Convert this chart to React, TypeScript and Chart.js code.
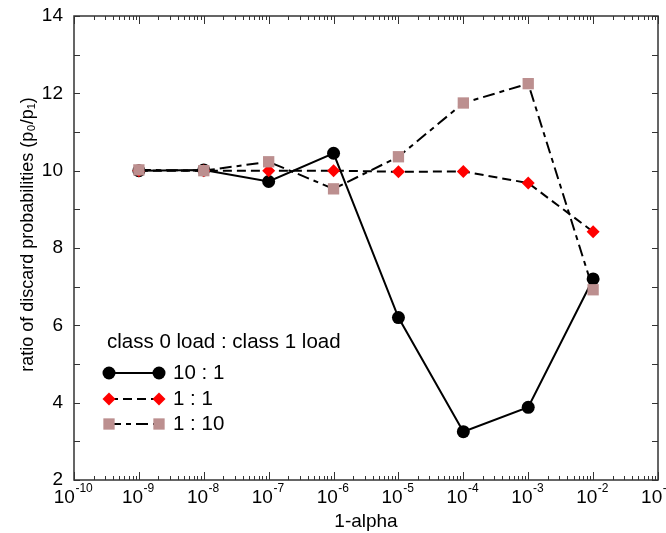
import React, { useEffect, useRef } from 'react';
import { Chart, registerables } from 'chart.js';

Chart.register(...registerables);

// ---- data ----
const alphaValues = [1e-9, 1e-8, 1e-7, 1e-6, 1e-5, 1e-4, 1e-3, 1e-2];
const ratio10to1 = [10.0, 10.02, 9.72, 10.45, 6.2, 3.25, 3.88, 7.2];
const ratio1to1 = [10.0, 10.0, 10.0, 10.0, 9.97, 9.98, 9.68, 8.42];
const ratio1to10 = [10.02, 10.0, 10.23, 9.53, 10.36, 11.75, 12.25, 6.92];
const seriesLabels = ['10 : 1', '1 : 1', '1 : 10'];
const legendTitle = 'class 0 load : class 1 load';
const xTickExponents = [-10, -9, -8, -7, -6, -5, -4, -3, -2, -1];
const yMin = 2;
const yMax = 14;
const xTitle = '1-alpha';
const yTitle = 'ratio of discard probabilities (p\u2080/p\u2081)';

const FONT = "'Liberation Sans', Arial, Helvetica, sans-serif";
const GRAY = 'rgb(188,143,143)';

function drawMarker(ctx: CanvasRenderingContext2D, style: string, x: number, y: number, r: number, color: string) {
  ctx.save();
  ctx.fillStyle = color;
  ctx.beginPath();
  if (style === 'circle') {
    ctx.arc(x, y, r, 0, Math.PI * 2);
  } else if (style === 'rectRot') {
    ctx.moveTo(x, y - r);
    ctx.lineTo(x + r, y);
    ctx.lineTo(x, y + r);
    ctx.lineTo(x - r, y);
    ctx.closePath();
  } else {
    const s = r * Math.SQRT1_2;
    ctx.rect(x - s, y - s, 2 * s, 2 * s);
  }
  ctx.fill();
  ctx.restore();
}

const framePlugin = {
  id: 'frameTicks',
  afterDraw(chart: any) {
    const { ctx, chartArea, scales } = chart;
    const { left, right, top, bottom } = chartArea;
    ctx.save();
    ctx.strokeStyle = '#333';
    ctx.lineWidth = 1.5;
    ctx.strokeRect(left, top, right - left, bottom - top);
    ctx.lineWidth = 1;
    ctx.beginPath();
    for (let v = yMin; v <= yMax; v++) {
      const py = Math.round(scales.y.getPixelForValue(v)) + 0.5;
      const len = 6;
      ctx.moveTo(left, py); ctx.lineTo(left + len, py);
      ctx.moveTo(right, py); ctx.lineTo(right - len, py);
    }
    const e0 = xTickExponents[0];
    const e1 = xTickExponents[xTickExponents.length - 1];
    for (let e = e0; e <= e1; e++) {
      for (let m = 1; m <= 9; m++) {
        if (e === e1 && m > 1) break;
        const v = m * Math.pow(10, e);
        const px = Math.round(scales.x.getPixelForValue(v)) + 0.5;
        const len = m === 1 ? 8 : 4;
        ctx.moveTo(px, bottom); ctx.lineTo(px, bottom - len);
        ctx.moveTo(px, top); ctx.lineTo(px, top + len);
      }
    }
    ctx.stroke();
    ctx.restore();

    // x tick labels with superscript exponents
    ctx.save();
    ctx.fillStyle = '#000';
    ctx.textBaseline = 'alphabetic';
    ctx.textAlign = 'left';
    const baseFont = `19px ${FONT}`;
    const expFont = `12px ${FONT}`;
    scales.x.ticks.forEach((t: any) => {
      const e = Math.round(Math.log10(t.value));
      const px = scales.x.getPixelForValue(t.value);
      const baseText = '10';
      const expText = String(e);
      ctx.font = baseFont;
      const bw = ctx.measureText(baseText).width;
      ctx.font = expFont;
      const ew = ctx.measureText(expText).width;
      const x0 = px - (bw + ew) / 2 - 1;
      ctx.font = baseFont;
      ctx.fillText(baseText, x0, bottom + 23);
      ctx.font = expFont;
      ctx.fillText(expText, x0 + bw + 0.5, bottom + 12);
    });
    ctx.restore();

    // legend
    ctx.save();
    ctx.fillStyle = '#000';
    ctx.font = `20.5px ${FONT}`;
    ctx.textBaseline = 'middle';
    ctx.textAlign = 'left';
    ctx.fillText(legendTitle, 107, 342);
    const rowsY = [373, 399, 424];
    chart.data.datasets.forEach((ds: any, i: number) => {
      const y = rowsY[i];
      ctx.save();
      ctx.strokeStyle = ds.borderColor;
      ctx.lineWidth = ds.borderWidth;
      ctx.setLineDash(ds.borderDash || []);
      ctx.beginPath();
      ctx.moveTo(109, y);
      ctx.lineTo(159, y);
      ctx.stroke();
      ctx.restore();
      drawMarker(ctx, ds.pointStyle, 109, y, ds.pointRadius, ds.pointBackgroundColor);
      drawMarker(ctx, ds.pointStyle, 159, y, ds.pointRadius, ds.pointBackgroundColor);
      ctx.fillStyle = '#000';
      ctx.fillText(ds.label, 173, y);
    });
    ctx.restore();
  },
};

export default function App() {
  const canvasRef = useRef<HTMLCanvasElement | null>(null);

  useEffect(() => {
    if (!canvasRef.current) return;
    const toPts = (arr: number[]) => alphaValues.map((x, i) => ({ x, y: arr[i] }));
    const chart = new Chart(canvasRef.current, {
      type: 'line',
      data: {
        datasets: [
          {
            label: seriesLabels[0],
            data: toPts(ratio10to1),
            borderColor: '#000',
            borderWidth: 2,
            pointStyle: 'circle',
            pointRadius: 6.5,
            pointBackgroundColor: '#000',
            pointBorderColor: '#000',
            pointBorderWidth: 0,
            order: 3,
          },
          {
            label: seriesLabels[1],
            data: toPts(ratio1to1),
            borderColor: '#000',
            borderWidth: 2,
            borderDash: [9, 5],
            pointStyle: 'rectRot',
            pointRadius: 6.5,
            pointBackgroundColor: '#ff0000',
            pointBorderColor: '#ff0000',
            pointBorderWidth: 0,
            order: 2,
          },
          {
            label: seriesLabels[2],
            data: toPts(ratio1to10),
            borderColor: '#000',
            borderWidth: 2,
            borderDash: [12, 5, 5, 5],
            pointStyle: 'rect',
            pointRadius: 8,
            pointBackgroundColor: GRAY,
            pointBorderColor: GRAY,
            pointBorderWidth: 0,
            order: 1,
          },
        ] as any,
      },
      options: {
        animation: false,
        responsive: false,
        devicePixelRatio: 1,
        layout: { padding: { top: 16, right: 7, bottom: 0, left: 0 } },
        plugins: { legend: { display: false }, tooltip: { enabled: false } },
        elements: { line: { tension: 0 } },
        scales: {
          x: {
            type: 'logarithmic',
            min: 1e-10,
            max: 1e-1,
            afterBuildTicks: (s: any) => {
              s.ticks = xTickExponents.map((e) => ({ value: Math.pow(10, e) }));
            },
            afterFit: (s: any) => {
              s.height = 53;
              s.paddingLeft = 0;
              s.paddingRight = 0;
            },
            ticks: {
              display: false,
              autoSkip: false,
              maxRotation: 0,
              minRotation: 0,
            },
            grid: { display: false, drawTicks: false },
            border: { display: false },
            title: {
              display: true,
              text: xTitle,
              color: '#000',
              font: { family: FONT, size: 19 },
              padding: { top: 0, bottom: 0 },
            },
          },
          y: {
            type: 'linear',
            min: yMin,
            max: yMax,
            afterFit: (s: any) => {
              s.width = 74;
              s.paddingTop = 0;
              s.paddingBottom = 0;
            },
            ticks: {
              stepSize: 2,
              padding: 11,
              color: '#000',
              font: { family: FONT, size: 19 },
            },
            grid: { display: false, drawTicks: false },
            border: { display: false },
            title: {
              display: true,
              text: '\u2003\u2002' + yTitle,
              color: '#000',
              font: { family: FONT, size: 18 },
              padding: { top: 17, bottom: 0 },
            },
          },
        },
      } as any,
      plugins: [framePlugin],
    });
    return () => chart.destroy();
  }, []);

  return (
    <div style={{ position: 'fixed', left: 0, top: 0, width: 666, height: 533, background: '#fff' }}>
      <canvas ref={canvasRef} width={666} height={533} />
    </div>
  );
}
